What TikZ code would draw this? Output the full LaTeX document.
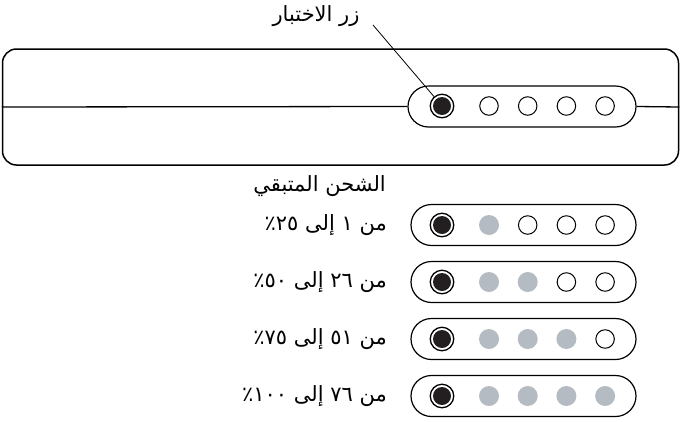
\documentclass[tikz,border=0pt]{standalone}
\usepackage{fontspec}
\newfontfamily\arabicfont[Script=Arabic]{DejaVu Sans}
\TeXXeTstate=1
\usetikzlibrary{positioning, calc}
\definecolor{ledgray}{RGB}{181, 187, 194}
\definecolor{ledblack}{RGB}{35, 31, 32}

\begin{document}
\begin{tikzpicture}[x=1pt, y=-1pt,
    arabic/.style={inner sep=0pt, font=\arabicfont\fontsize{21}{24}\selectfont},
    pill/.style={draw, line width=1.2pt, rounded corners=20.5pt, minimum height=41pt, inner sep=0pt},
    testbtn/.style={circle, draw, line width=1.3pt, minimum size=23.5pt, inner sep=0pt},
    ledoff/.style={circle, draw, line width=1pt, minimum size=18.5pt, inner sep=0pt},
    ledon/.style={circle, fill=ledgray, minimum size=20pt, inner sep=0pt}]
    \useasboundingbox (0,0) rectangle (680,421);

    \node[draw, line width=1.5pt, rounded corners=14pt, minimum width=676pt, minimum height=116pt, inner sep=0pt] (case) at (340.5,107) {};
    \node[pill, fill=white, minimum width=228pt] (toppill) at (522,106.5) {};
    \draw[line width=1.3pt] (case.west) -- (toppill.west);
    \draw[line width=1.3pt] (toppill.east) -- (case.east);
    \node[testbtn] (btn0) at (442,106) {};
    \fill[ledblack] (btn0) circle (9pt);
    \foreach \k in {1,...,4}
        \node[ledoff] (led0\k) at (450.3+38.7*\k,106) {};

    \node[arabic] (btnlabel) at (316,16) {\beginR زر الاختبار\endR};
    \coordinate (lead) at (373,25);
    \draw[line width=0.8pt] (lead) -- (btn0);

    \node[arabic, anchor=east] (title) at (386,186) {\beginR الشحن المتبقي\endR};

    \foreach \yy/\nlit [count=\r] in {225/1, 282/2, 339/3, 396/4} {
        \node[pill, minimum width=225pt] (pill\r) at (523.5,\yy) {};
        \node[testbtn] (btn\r) at (442,\yy) {};
        \fill[ledblack] (btn\r) circle (9pt);
        \foreach \k in {1,...,4} {
            \ifnum\k>\nlit
                \node[ledoff] (led\r\k) at (450.3+38.7*\k,\yy) {};
            \else
                \node[ledon] (led\r\k) at (450.3+38.7*\k,\yy) {};
            \fi
        }
    }

    \node[arabic, anchor=east] (range1) at (387,225) {\beginR من ١ إلى ٢٥٪\endR};
    \node[arabic, anchor=east] (range2) at (387,282) {\beginR من ٢٦ إلى ٥٠٪\endR};
    \node[arabic, anchor=east] (range3) at (387,339) {\beginR من ٥١ إلى ٧٥٪\endR};
    \node[arabic, anchor=east] (range4) at (387,396) {\beginR من ٧٦ إلى ١٠٠٪\endR};
\end{tikzpicture}
\end{document}
